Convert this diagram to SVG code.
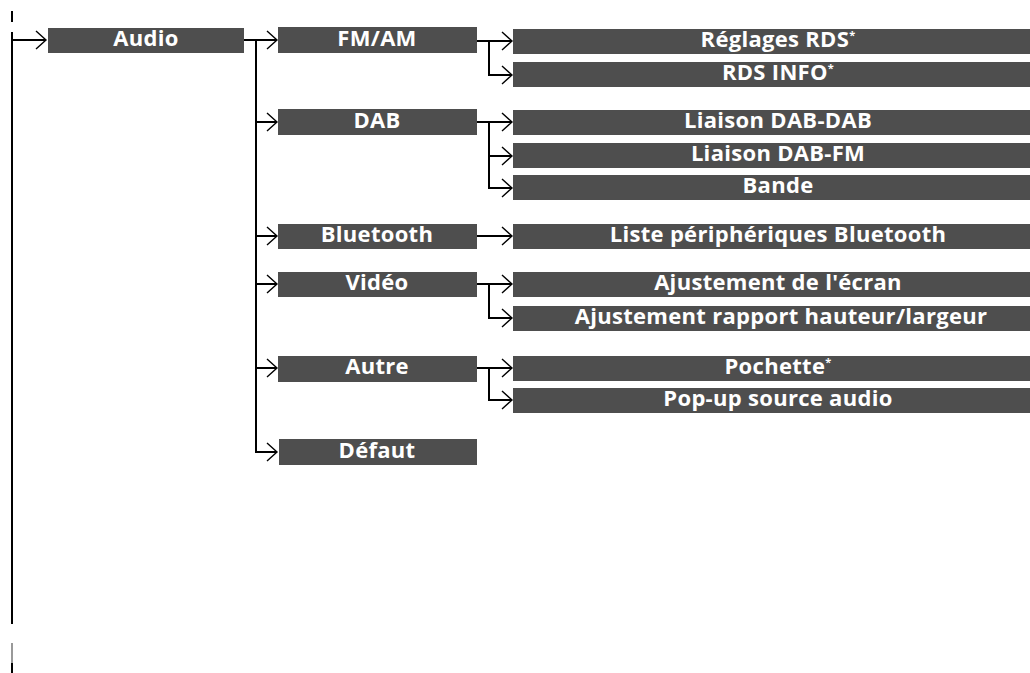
<svg xmlns="http://www.w3.org/2000/svg" width="1030" height="673" viewBox="0 0 1030 673">
<style>
.box{fill:#4e4e4e}
.t{font-family:"Open Sans","DejaVu Sans",sans-serif;font-weight:bold;font-size:22px;letter-spacing:0.3px;fill:#fff;text-anchor:middle}
.ln{stroke:#000;stroke-width:2;fill:none}
.ast{font-size:11px}
</style>
<defs>
<marker id="chev" markerUnits="userSpaceOnUse" markerWidth="14" markerHeight="22" refX="12" refY="11" orient="auto" viewBox="0 0 14 22">
<path d="M2,2 L12,11 L2,20" stroke="#000" stroke-width="1.4" fill="none"/>
</marker>
</defs>
<rect x="0" y="0" width="1030" height="673" fill="#fff"/>
<g id="connectors">
<line class="ln" x1="12" y1="11" x2="12" y2="22"/>
<line class="ln" x1="12" y1="32" x2="12" y2="624"/>
<line x1="12" y1="643" x2="12" y2="663" stroke="#999" stroke-width="2"/>
<line class="ln" x1="12" y1="663" x2="12" y2="673"/>
<line class="ln" x1="12" y1="40" x2="46" y2="40" marker-end="url(#chev)"/>
<line class="ln" x1="244" y1="40" x2="277" y2="40" marker-end="url(#chev)"/>
<line class="ln" x1="256" y1="40" x2="256" y2="452"/>
<line class="ln" x1="255" y1="122" x2="277" y2="122" marker-end="url(#chev)"/>
<line class="ln" x1="255" y1="236" x2="277" y2="236" marker-end="url(#chev)"/>
<line class="ln" x1="255" y1="284" x2="277" y2="284" marker-end="url(#chev)"/>
<line class="ln" x1="255" y1="368" x2="277" y2="368" marker-end="url(#chev)"/>
<line class="ln" x1="255" y1="452" x2="277" y2="452" marker-end="url(#chev)"/>
<line class="ln" x1="477" y1="41" x2="512" y2="41" marker-end="url(#chev)"/>
<line class="ln" x1="489" y1="41" x2="489" y2="75"/>
<line class="ln" x1="488" y1="75" x2="512" y2="75" marker-end="url(#chev)"/>
<line class="ln" x1="477" y1="122" x2="512" y2="122" marker-end="url(#chev)"/>
<line class="ln" x1="489" y1="122" x2="489" y2="188"/>
<line class="ln" x1="488" y1="156" x2="512" y2="156" marker-end="url(#chev)"/>
<line class="ln" x1="488" y1="188" x2="512" y2="188" marker-end="url(#chev)"/>
<line class="ln" x1="477" y1="236" x2="512" y2="236" marker-end="url(#chev)"/>
<line class="ln" x1="477" y1="284" x2="512" y2="284" marker-end="url(#chev)"/>
<line class="ln" x1="489" y1="284" x2="489" y2="318"/>
<line class="ln" x1="488" y1="318" x2="512" y2="318" marker-end="url(#chev)"/>
<line class="ln" x1="477" y1="368" x2="512" y2="368" marker-end="url(#chev)"/>
<line class="ln" x1="489" y1="368" x2="489" y2="400"/>
<line class="ln" x1="488" y1="400" x2="512" y2="400" marker-end="url(#chev)"/>
</g>
<g id="audio"><rect class="box" x="48" y="28" width="196" height="25"/><text class="t" x="146" y="46">Audio</text></g>
<g id="fmam"><rect class="box" x="278" y="27" width="199" height="26"/><text class="t" x="377" y="46">FM/AM</text></g>
<g id="dab"><rect class="box" x="278" y="109" width="199" height="26"/><text class="t" x="377" y="128">DAB</text></g>
<g id="bluetooth"><rect class="box" x="278" y="224" width="199" height="25"/><text class="t" x="377" y="242">Bluetooth</text></g>
<g id="video"><rect class="box" x="278" y="272" width="199" height="25"/><text class="t" x="377" y="290">Vidéo</text></g>
<g id="autre"><rect class="box" x="278" y="356" width="199" height="26"/><text class="t" x="377" y="374">Autre</text></g>
<g id="defaut"><rect class="box" x="279" y="439" width="198" height="26"/><text class="t" x="377" y="458">Défaut</text></g>
<g id="reglages-rds"><rect class="box" x="513" y="29" width="517" height="25"/><text class="t" x="778" y="47">Réglages RDS<tspan class="ast" dy="-8">*</tspan></text></g>
<g id="rds-info"><rect class="box" x="513" y="62" width="517" height="25"/><text class="t" x="778" y="80">RDS INFO<tspan class="ast" dy="-8">*</tspan></text></g>
<g id="liaison-dab-dab"><rect class="box" x="513" y="110" width="517" height="25"/><text class="t" x="778" y="128">Liaison DAB-DAB</text></g>
<g id="liaison-dab-fm"><rect class="box" x="513" y="143" width="517" height="25"/><text class="t" x="778" y="161">Liaison DAB-FM</text></g>
<g id="bande"><rect class="box" x="513" y="175" width="517" height="25"/><text class="t" x="778" y="193">Bande</text></g>
<g id="liste-bt"><rect class="box" x="513" y="224" width="517" height="25"/><text class="t" x="778" y="242">Liste périphériques Bluetooth</text></g>
<g id="ajust-ecran"><rect class="box" x="513" y="272" width="517" height="25"/><text class="t" x="778" y="290">Ajustement de l'écran</text></g>
<g id="ajust-rapport"><rect class="box" x="513" y="306" width="517" height="25"/><text class="t" x="781" y="324">Ajustement rapport hauteur/largeur</text></g>
<g id="pochette"><rect class="box" x="513" y="356" width="517" height="25"/><text class="t" x="778" y="374">Pochette<tspan class="ast" dy="-8">*</tspan></text></g>
<g id="popup"><rect class="box" x="513" y="388" width="517" height="25"/><text class="t" x="778" y="406">Pop-up source audio</text></g>
</svg>
